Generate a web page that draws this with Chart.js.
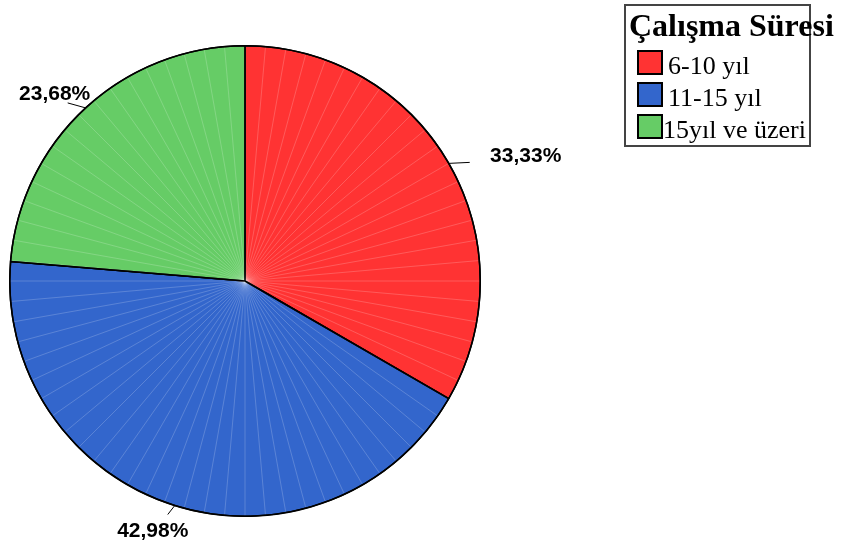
<!DOCTYPE html>
<html lang="tr">
<head>
  <meta charset="UTF-8">
  <title>Çalışma Süresi</title>
  <script src="https://cdn.jsdelivr.net/npm/chart.js"></script>
  <style>
    html, body { margin: 0; padding: 0; background: #fff; }
    #wrap { position: relative; width: 847px; height: 546px; }
  </style>
</head>
<body>
  <div id="wrap">
    <canvas id="pie" width="847" height="546"></canvas>
  </div>

  <script>
    // data
    const categories = ['6-10 yıl', '11-15 yıl', '15yıl ve üzeri'];
    const percents = [33.33, 42.98, 23.68];
    const sliceColors = ['#FF3333', '#3366CC', '#66CC66'];
    const legendTitle = 'Çalışma Süresi';

    // faint white spokes like the SPSS render
    const spokes = {
      id: 'spokes',
      afterDatasetsDraw(chart) {
        const arc = chart.getDatasetMeta(0).data[0];
        if (!arc) return;
        const c = chart.ctx;
        const R = arc.outerRadius - 1;
        c.save();
        c.strokeStyle = 'rgba(255,255,255,0.28)';
        c.lineWidth = 0.7;
        for (let a = 0; a < 360; a += 5) {
          const t = a * Math.PI / 180;
          c.beginPath();
          c.moveTo(arc.x, arc.y);
          c.lineTo(arc.x + Math.cos(t) * R, arc.y + Math.sin(t) * R);
          c.stroke();
        }
        // redraw separators on top
        c.strokeStyle = '#000';
        c.lineWidth = 1.5;
        chart.getDatasetMeta(0).data.forEach(el => {
          c.beginPath();
          c.moveTo(el.x, el.y);
          c.lineTo(el.x + Math.cos(el.startAngle) * el.outerRadius, el.y + Math.sin(el.startAngle) * el.outerRadius);
          c.stroke();
        });
        c.beginPath();
        c.arc(arc.x, arc.y, arc.outerRadius, 0, Math.PI * 2);
        c.stroke();
        c.restore();
      }
    };

    // percentage labels with short leader lines
    const pctLabels = {
      id: 'pctLabels',
      afterDraw(chart, args, opts) {
        const c = chart.ctx;
        const vals = chart.data.datasets[0].data;
        c.save();
        c.font = 'bold 21px "Liberation Sans", Arial, sans-serif';
        c.textAlign = 'center';
        c.textBaseline = 'middle';
        c.strokeStyle = '#000';
        c.lineWidth = 1;
        chart.getDatasetMeta(0).data.forEach((el, i) => {
          const mid = (el.startAngle + el.endAngle) / 2;
          const px = el.x + Math.cos(mid) * el.outerRadius;
          const py = el.y + Math.sin(mid) * el.outerRadius;
          const ln = opts.lines[i], tx = opts.text[i];
          c.beginPath();
          c.moveTo(px, py);
          c.lineTo(px + ln[0], py + ln[1]);
          c.stroke();
          c.fillStyle = '#000';
          c.fillText(vals[i].toFixed(2).replace('.', ',') + '%', px + tx[0], py + tx[1]);
        });
        c.restore();
      }
    };

    // legend box in the top right
    const boxLegend = {
      id: 'boxLegend',
      afterDraw(chart) {
        const c = chart.ctx;
        const ds = chart.data.datasets[0];
        c.save();
        c.strokeStyle = '#444';
        c.lineWidth = 2;
        c.strokeRect(625, 5, 185, 141);
        c.fillStyle = '#000';
        c.textAlign = 'left';
        c.textBaseline = 'alphabetic';
        c.font = 'bold 32px "Liberation Serif", "Times New Roman", serif';
        c.fillText(legendTitle, 629, 36);
        c.font = '26px "Liberation Serif", "Times New Roman", serif';
        chart.data.labels.forEach((lab, i) => {
          const y = 50 + i * 32;
          c.fillStyle = ds.backgroundColor[i];
          c.fillRect(638, y + 1, 24, 23);
          c.strokeStyle = '#000';
          c.lineWidth = 2;
          c.strokeRect(638, y + 1, 24, 23);
          c.fillStyle = '#000';
          c.fillText(lab, i === 2 ? 663 : 668, y + 24);
        });
        c.restore();
      }
    };

    new Chart(document.getElementById('pie'), {
      type: 'pie',
      data: {
        labels: categories,
        datasets: [{
          data: percents,
          backgroundColor: sliceColors,
          borderColor: '#000',
          borderWidth: 1.5
        }]
      },
      options: {
        responsive: false,
        animation: false,
        layout: { padding: { left: 9, top: 45, right: 366, bottom: 29 } },
        plugins: {
          legend: { display: false },
          tooltip: { enabled: false },
          pctLabels: {
            lines: [[21, -1], [-7, 9], [-18, -5]],
            text: [[77, -7], [-22, 26], [-31, -14]]
          }
        }
      },
      plugins: [spokes, pctLabels, boxLegend]
    });
  </script>
</body>
</html>
